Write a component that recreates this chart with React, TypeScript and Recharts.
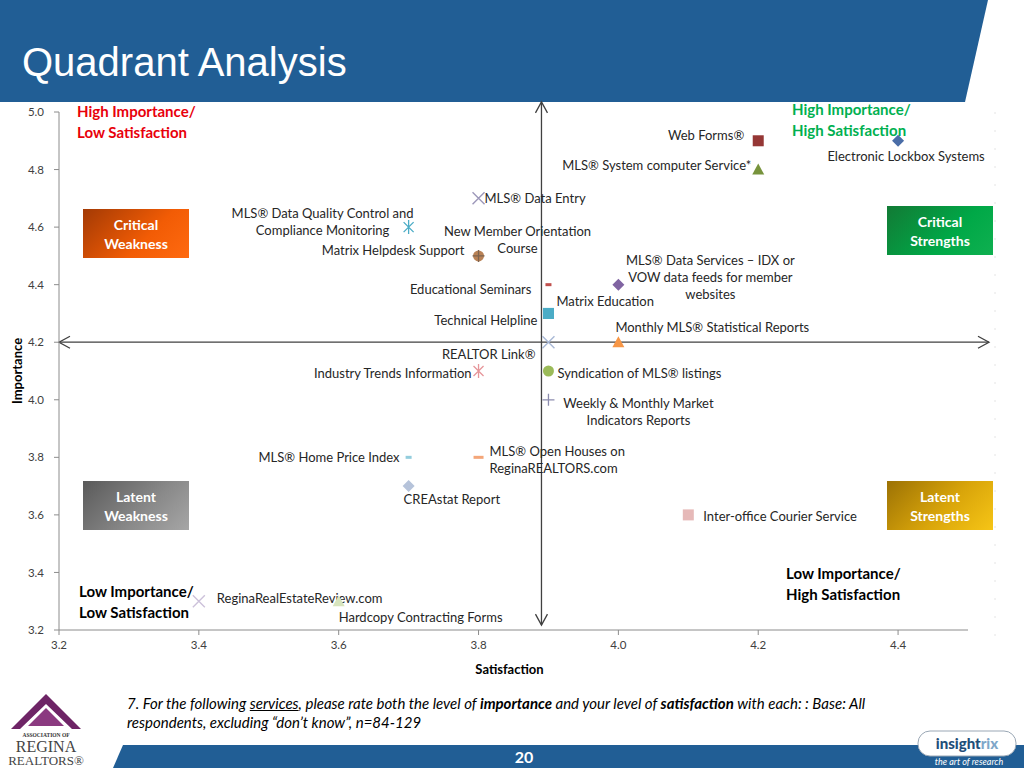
import { Label, ReferenceLine, Scatter, ScatterChart, XAxis, YAxis } from 'recharts'

// services rated, with mean satisfaction (x) and importance (y)
const services = [
  'Web Forms®',
  'MLS® System computer Service*',
  'Electronic Lockbox Systems',
  'MLS® Data Entry',
  'MLS® Data Quality Control and\nCompliance Monitoring',
  'Matrix Helpdesk Support',
  'New Member Orientation\nCourse',
  'Educational Seminars',
  'MLS® Data Services – IDX or\nVOW data feeds for member\nwebsites',
  'Matrix Education',
  'Technical Helpline',
  'Monthly MLS® Statistical Reports',
  'REALTOR Link®',
  'Industry Trends Information',
  'Syndication of MLS® listings',
  'Weekly & Monthly Market\nIndicators Reports',
  'MLS® Home Price Index',
  'MLS® Open Houses on\nReginaREALTORS.com',
  'CREAstat Report',
  'Inter-office Courier Service',
  'ReginaRealEstateReview.com',
  'Hardcopy Contracting Forms',
]
const satisfaction = [4.2, 4.2, 4.4, 3.8, 3.7, 3.8, 3.8, 3.9, 4.0, 3.9, 3.9, 4.0, 3.9, 3.8, 3.9, 3.9, 3.7, 3.8, 3.7, 4.1, 3.4, 3.6]
const importance = [4.9, 4.8, 4.9, 4.7, 4.6, 4.5, 4.5, 4.4, 4.4, 4.3, 4.3, 4.2, 4.2, 4.1, 4.1, 4.0, 3.8, 3.8, 3.7, 3.6, 3.3, 3.3]

const satTicks = [3.2, 3.4, 3.6, 3.8, 4.0, 4.2, 4.4]
const impTicks = [3.2, 3.4, 3.6, 3.8, 4.0, 4.2, 4.4, 4.6, 4.8, 5.0]

// quadrant dividers
const MID_SAT = 3.89
const MID_IMP = 4.2

const data = services.map((name, i) => ({ name, sat: satisfaction[i], imp: importance[i] }))

type Kind = 'square' | 'triangle' | 'diamond' | 'circle' | 'x' | 'asterisk' | 'plus' | 'dash' | 'wideDash'
type Anchor = 'start' | 'middle' | 'end'

// marker look + label placement (px offsets from the point)
const STYLE: [Kind, string, Anchor, number, number][] = [
  ['square', '#953735', 'end', -14, -6],
  ['triangle', '#77933C', 'end', -7, -5],
  ['diamond', '#4A6DA7', 'middle', 8, 15],
  ['x', '#9D98BA', 'start', 6, 0],
  ['asterisk', '#4BACC6', 'middle', -86, -14],
  ['circle', '#B98256', 'end', -14, -6],
  ['plus', '#7E6450', 'middle', 39, -25],
  ['dash', '#C0504D', 'end', -17, 4],
  ['diamond', '#8064A2', 'middle', 92, -25],
  ['square', '#4BACC6', 'start', 8, -12],
  ['square', '#4BACC6', 'end', -11, 7],
  ['triangle', '#F79646', 'start', -3, -15],
  ['x', '#A9B9D6', 'end', -13, 12],
  ['asterisk', '#E6969A', 'end', -7, 2],
  ['circle', '#9BBB59', 'start', 9, 2],
  ['plus', '#8C8CAE', 'middle', 90, 3],
  ['dash', '#93CDDD', 'end', -9, 0],
  ['wideDash', '#F4A679', 'start', 11, -6],
  ['diamond', '#B6C3DA', 'start', -5, 13],
  ['square', '#E6B9B8', 'start', 15, 1],
  ['x', '#CCC1DA', 'start', 18, -3],
  ['triangle', '#D7E4BD', 'start', 0, 16],
]

const FONT = 'Lato, "Open Sans", sans-serif'
const BLUE = '#215E95'

function Marker({ kind, color, x, y }: { kind: Kind; color: string; x: number; y: number }) {
  switch (kind) {
    case 'square':
      return <rect x={x - 5.5} y={y - 5.5} width={11} height={11} fill={color} />
    case 'triangle':
      return <polygon points={`${x},${y - 6} ${x + 6},${y + 5} ${x - 6},${y + 5}`} fill={color} />
    case 'diamond':
      return <polygon points={`${x},${y - 6} ${x + 6},${y} ${x},${y + 6} ${x - 6},${y}`} fill={color} />
    case 'circle':
      return <circle cx={x} cy={y} r={5.5} fill={color} />
    case 'x':
      return (
        <path d={`M${x - 6},${y - 6}L${x + 6},${y + 6}M${x + 6},${y - 6}L${x - 6},${y + 6}`} stroke={color} strokeWidth={1.4} />
      )
    case 'asterisk':
      return (
        <path
          d={`M${x - 5},${y - 5}L${x + 5},${y + 5}M${x + 5},${y - 5}L${x - 5},${y + 5}M${x},${y - 7}L${x},${y + 7}`}
          stroke={color}
          strokeWidth={1.3}
        />
      )
    case 'plus':
      return <path d={`M${x - 6},${y}L${x + 6},${y}M${x},${y - 6}L${x},${y + 6}`} stroke={color} strokeWidth={1.3} />
    case 'dash':
      return <rect x={x - 3} y={y - 1.5} width={6} height={3} fill={color} />
    case 'wideDash':
      return <rect x={x - 5} y={y - 1.5} width={10} height={3} fill={color} />
  }
  return null
}

function ServicePoint(props: any) {
  const { cx, cy, payload } = props
  const i = services.indexOf(payload.name)
  const [kind, color, anchor, dx, dy] = STYLE[i]
  const lines = String(payload.name).split('\n')
  return (
    <g>
      <Marker kind={kind} color={color} x={cx} y={cy} />
      {lines.map((t, k) => (
        <text
          key={k}
          x={cx + dx}
          y={cy + dy + k * 17}
          textAnchor={anchor}
          dominantBaseline="central"
          fontFamily={FONT}
          fontSize={13}
          fill="#262626"
        >
          {t}
        </text>
      ))}
    </g>
  )
}

function Arrow(props: any) {
  const { x1, y1, x2, y2 } = props
  const vertical = Math.abs(x1 - x2) < 1
  const h = 11
  const heads = vertical
    ? `M${x1 - 6},${y1 + h}L${x1},${y1}L${x1 + 6},${y1 + h}M${x2 - 6},${y2 - h}L${x2},${y2}L${x2 + 6},${y2 - h}`
    : `M${x1 + h},${y1 - 6}L${x1},${y1}L${x1 + h},${y1 + 6}M${x2 - h},${y2 - 6}L${x2},${y2}L${x2 - h},${y2 + 6}`
  return (
    <g>
      <line x1={x1} y1={y1} x2={x2} y2={y2} stroke="#404040" strokeWidth={1.3} />
      <path d={heads} stroke="#404040" strokeWidth={1.3} fill="none" />
    </g>
  )
}

const boxText: React.CSSProperties = {
  position: 'absolute',
  width: 106,
  height: 49,
  display: 'flex',
  alignItems: 'center',
  justifyContent: 'center',
  textAlign: 'center',
  color: '#fff',
  fontFamily: FONT,
  fontWeight: 700,
  fontSize: 14,
  lineHeight: '19px',
}

const cornerText: React.CSSProperties = {
  position: 'absolute',
  fontFamily: FONT,
  fontWeight: 700,
  fontSize: 15,
  lineHeight: '21px',
}

export default function App() {
  return (
    <div style={{ position: 'absolute', left: 0, top: 0, width: 1024, height: 768, overflow: 'hidden', background: '#fff' }}>
      <svg width={1024} height={768} style={{ position: 'absolute', left: 0, top: 0 }}>
        <polygon points="0,0 988,0 965,102 0,102" fill={BLUE} />
        <text x={22} y={76} fill="#fff" fontFamily='"Liberation Sans", Arial, sans-serif' fontSize={40}>
          Quadrant Analysis
        </text>
        <line x1={995} y1={112} x2={995} y2={650} stroke="#e4e4e4" strokeDasharray="2 16" />
        <polygon points="123,745 1024,745 1024,768 113,768" fill={BLUE} />
        <text x={524} y={763} textAnchor="middle" fill="#fff" fontFamily={FONT} fontWeight={700} fontSize={16}>
          20
        </text>
        {/* Regina Realtors logo */}
        <polygon points="46,694 81,729 72,729 46,704 20,729 11,729" fill="#6E2466" />
        <polygon points="46,708 64,726 28,726" fill="#8B3A80" />
        <text x={46} y={737} textAnchor="middle" fontFamily="serif" fontSize={5.5} fontWeight={700} fill="#333">
          ASSOCIATION OF
        </text>
        <text x={46} y={752} textAnchor="middle" fontFamily='"Liberation Serif", serif' fontSize={16} fill="#444">
          REGINA
        </text>
        <text x={46} y={765} textAnchor="middle" fontFamily='"Liberation Serif", serif' fontSize={13} fill="#444">
          REALTORS®
        </text>
        {/* insightrix logo */}
        <rect x={918} y={731} width={98} height={25} rx={12} fill="#fff" stroke="#9aa7b5" />
        <text x={967} y={749} textAnchor="middle" fontFamily={FONT} fontWeight={900} fontSize={15}>
          <tspan fill="#1F4E79">insight</tspan>
          <tspan fill="#7FA7C9">rix</tspan>
        </text>
        <text x={969} y={765} textAnchor="middle" fill="#fff" fontFamily={FONT} fontStyle="italic" fontSize={9}>
          the art of research
        </text>
      </svg>

      <div style={{ ...cornerText, left: 77, top: 101, color: '#E8000B' }}>
        High Importance/
        <br />
        Low Satisfaction
      </div>
      <div style={{ ...cornerText, left: 792, top: 99, color: '#00B050' }}>
        High Importance/
        <br />
        High Satisfaction
      </div>
      <div style={{ ...cornerText, left: 79, top: 581, color: '#000' }}>
        Low Importance/
        <br />
        Low Satisfaction
      </div>
      <div style={{ ...cornerText, left: 786, top: 563, color: '#000' }}>
        Low Importance/
        <br />
        High Satisfaction
      </div>

      <div style={{ ...boxText, left: 83, top: 209, background: 'linear-gradient(135deg, #A33A05, #F25C05 60%, #FF6A10)' }}>
        Critical
        <br />
        Weakness
      </div>
      <div style={{ ...boxText, left: 887, top: 206, background: 'linear-gradient(135deg, #127A35, #00A847 60%, #0FB050)' }}>
        Critical
        <br />
        Strengths
      </div>
      <div style={{ ...boxText, left: 83, top: 481, background: 'linear-gradient(135deg, #5A5A5A, #8A8A8A 60%, #A6A6A6)' }}>
        Latent
        <br />
        Weakness
      </div>
      <div style={{ ...boxText, left: 887, top: 481, background: 'linear-gradient(135deg, #9C7205, #D9A50A 55%, #F6C516)' }}>
        Latent
        <br />
        Strengths
      </div>

      <div style={{ position: 'absolute', left: 0, top: 0 }}>
        <ScatterChart width={1024} height={768} margin={{ top: 112, right: 56, bottom: 108, left: 19 }}>
          <XAxis
            type="number"
            dataKey="sat"
            domain={[3.2, 4.5]}
            ticks={satTicks}
            tickFormatter={(v) => v.toFixed(1)}
            height={30}
            tickSize={5}
            tickMargin={6}
            stroke="#8C8C8C"
            tick={{ fontSize: 11.5, fill: '#404040', fontFamily: FONT }}
          >
            <Label
              content={({ viewBox }: any) => (
                <text
                  x={viewBox.x + viewBox.width / 2 - 4}
                  y={viewBox.y + 39}
                  textAnchor="middle"
                  dominantBaseline="central"
                  fontFamily={FONT}
                  fontWeight={700}
                  fontSize={13}
                  fill="#000"
                >
                  Satisfaction
                </text>
              )}
            />
          </XAxis>
          <YAxis
            type="number"
            dataKey="imp"
            domain={[3.2, 5.0]}
            ticks={impTicks}
            tickFormatter={(v) => v.toFixed(1)}
            width={40}
            tickSize={5}
            tickMargin={10}
            stroke="#8C8C8C"
            tick={{ fontSize: 11.5, fill: '#404040', fontFamily: FONT }}
          >
            <Label
              content={({ viewBox }: any) => (
                <text
                  x={viewBox.x - 2}
                  y={viewBox.y + viewBox.height / 2}
                  transform={`rotate(-90, ${viewBox.x - 2}, ${viewBox.y + viewBox.height / 2})`}
                  textAnchor="middle"
                  dominantBaseline="central"
                  fontFamily={FONT}
                  fontWeight={700}
                  fontSize={13}
                  fill="#000"
                >
                  Importance
                </text>
              )}
            />
          </YAxis>
          <ReferenceLine
            segment={[
              { x: MID_SAT, y: 5.035 },
              { x: MID_SAT, y: 3.217 },
            ]}
            ifOverflow="visible"
            shape={Arrow}
          />
          <ReferenceLine
            segment={[
              { x: 3.2, y: MID_IMP },
              { x: 4.53, y: MID_IMP },
            ]}
            ifOverflow="visible"
            shape={Arrow}
          />
          <Scatter data={data} shape={ServicePoint} isAnimationActive={false} />
        </ScatterChart>
      </div>

      <div
        style={{
          position: 'absolute',
          left: 127,
          top: 694,
          width: 800,
          fontFamily: FONT,
          fontStyle: 'italic',
          fontSize: 15,
          lineHeight: '19px',
          color: '#000',
          whiteSpace: 'nowrap',
        }}
      >
        7. For the following <u>services</u>, please rate both the level of <b>importance</b> and your level of{' '}
        <b>satisfaction</b> with each: : Base: All
        <br />
        respondents, excluding “don’t know”, n=84-129
      </div>
    </div>
  )
}
